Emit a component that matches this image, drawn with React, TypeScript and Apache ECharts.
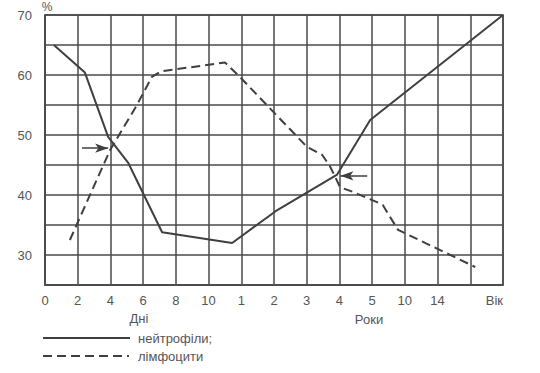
import React, { useEffect, useRef } from "react";
import * as echarts from "echarts";

const xLabels = ["0", "2", "4", "6", "8", "10", "1", "2", "3", "4", "5", "10", "14", "", "Вік"];
const yTicks = [25, 30, 35, 40, 45, 50, 55, 60, 65, 70];

// [position on the 0..14 grid, percent]
const neutrophils: [number, number][] = [
  [0.27, 65],
  [1.22, 60.4],
  [1.93, 49.7],
  [2.55, 45.3],
  [3.58, 33.8],
  [5.72, 32],
  [7.05, 37.3],
  [8.93, 43.4],
  [9.94, 52.5],
  [14, 70],
];

const lymphocytes: [number, number][] = [
  [0.76, 32.5],
  [1.99, 47.5],
  [2.81, 55],
  [3.27, 59.7],
  [3.55, 60.6],
  [5.5, 62.1],
  [5.9, 60],
  [8.01, 48],
  [8.47, 46.7],
  [8.71, 44.8],
  [9.02, 41.3],
  [9.42, 40.5],
  [10.15, 38.8],
  [10.33, 38.3],
  [10.79, 34.2],
  [10.94, 33.8],
  [13.15, 28],
];

const arrowLeft: [number, number][] = [
  [1.13, 47.8],
  [1.93, 47.8],
];
const arrowRight: [number, number][] = [
  [9.85, 43.2],
  [9.03, 43.2],
];

const seriesNames = ["нейтрофіли;", "лімфоцити"];
const groupLabels = ["Дні", "Роки"];

const LINE = "#3f3f3f";
const GRID = "#4a4a4a";
const TEXT = "#555555";
const FONT = "'Liberation Sans', Arial, sans-serif";

export default function App() {
  const ref = useRef<HTMLDivElement>(null);
  useEffect(() => {
    if (!ref.current) return;
    const chart = echarts.init(ref.current, undefined, { renderer: "svg" });
    chart.setOption({
      animation: false,
      backgroundColor: "#ffffff",
      grid: {
        left: 45,
        right: 37,
        top: 15,
        bottom: 88,
        show: true,
        borderColor: GRID,
        borderWidth: 1.5,
      },
      xAxis: {
        type: "value",
        min: 0,
        max: 14,
        interval: 1,
        axisLine: { show: true, lineStyle: { color: GRID, width: 1.5 } },
        axisTick: { show: false },
        splitLine: { show: true, lineStyle: { color: GRID, width: 1.5 } },
        axisLabel: {
          color: TEXT,
          fontSize: 13,
          fontFamily: FONT,
          margin: 9,
          alignMaxLabel: "right",
          formatter: (v: number) => xLabels[Math.round(v)] ?? "",
        },
      },
      yAxis: {
        type: "value",
        min: yTicks[0],
        max: yTicks[yTicks.length - 1],
        interval: 5,
        axisLine: { show: true, lineStyle: { color: GRID, width: 1.5 } },
        axisTick: { show: false },
        splitLine: { show: true, lineStyle: { color: GRID, width: 1.5 } },
        axisLabel: {
          color: TEXT,
          fontSize: 13,
          fontFamily: FONT,
          margin: 13,
          formatter: (v: number) => (v % 10 === 0 ? String(v) : ""),
        },
      },
      series: [
        {
          name: seriesNames[0],
          type: "line",
          data: neutrophils,
          symbol: "none",
          lineStyle: { color: LINE, width: 2 },
          markLine: {
            silent: true,
            symbol: ["none", "arrow"],
            symbolSize: [7, 13],
            label: { show: false },
            lineStyle: { color: LINE, width: 1.5, type: "solid" },
            data: [
              [{ coord: arrowLeft[0] }, { coord: arrowLeft[1] }],
              [{ coord: arrowRight[0] }, { coord: arrowRight[1] }],
            ],
          },
        },
        {
          name: seriesNames[1],
          type: "line",
          data: lymphocytes,
          symbol: "none",
          lineStyle: { color: LINE, width: 2, type: [9, 5] },
        },
      ],
      graphic: [
        {
          type: "text",
          x: 47,
          y: 7,
          z: 100,
          style: {
            text: "%",
            fill: TEXT,
            fontSize: 12,
            fontFamily: FONT,
            align: "center",
            verticalAlign: "middle",
          },
        },
        {
          type: "text",
          x: 139,
          y: 318,
          style: {
            text: groupLabels[0],
            fill: TEXT,
            fontSize: 13,
            fontFamily: FONT,
            align: "center",
            verticalAlign: "middle",
          },
        },
        {
          type: "text",
          x: 369,
          y: 319,
          style: {
            text: groupLabels[1],
            fill: TEXT,
            fontSize: 13,
            fontFamily: FONT,
            align: "center",
            verticalAlign: "middle",
          },
        },
        {
          type: "line",
          shape: { x1: 43, y1: 338, x2: 130, y2: 338 },
          style: { stroke: LINE, lineWidth: 2 },
        },
        {
          type: "text",
          x: 138,
          y: 338,
          style: {
            text: seriesNames[0],
            fill: TEXT,
            fontSize: 13,
            fontFamily: FONT,
            verticalAlign: "middle",
          },
        },
        {
          type: "line",
          shape: { x1: 43, y1: 356, x2: 129, y2: 356 },
          style: { stroke: LINE, lineWidth: 2, lineDash: [9, 5] },
        },
        {
          type: "text",
          x: 138,
          y: 356,
          style: {
            text: seriesNames[1],
            fill: TEXT,
            fontSize: 13,
            fontFamily: FONT,
            verticalAlign: "middle",
          },
        },
      ],
    });
    return () => chart.dispose();
  }, []);
  return (
    <div
      ref={ref}
      style={{ position: "absolute", left: 0, top: 0, width: 540, height: 373 }}
    />
  );
}
